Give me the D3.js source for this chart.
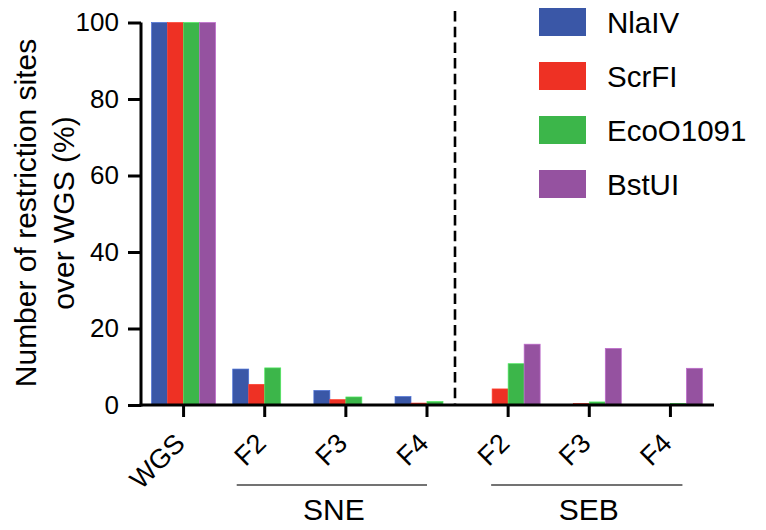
<!DOCTYPE html>
<html>
<head>
<meta charset="utf-8">
<script src="https://cdn.jsdelivr.net/npm/d3@7"></script>
<style>
  body { margin: 0; background: #fff; }
  text { font-family: "Liberation Sans", Arial, Helvetica, sans-serif; fill: #000; }
</style>
</head>
<body>
<div id="chart"></div>
<script>
// categories along the x axis (group + fraction) and their tick labels
var categories = ["WGS", "SNE F2", "SNE F3", "SNE F4", "SEB F2", "SEB F3", "SEB F4"];
var tickLabels = ["WGS", "F2", "F3", "F4", "F2", "F3", "F4"];
var enzymes = ["NlaIV", "ScrFI", "EcoO1091", "BstUI"];
var colors = ["#3a57a7", "#ee3124", "#3cb64a", "#9552a0"];

// % of restriction sites over WGS, one array per enzyme
var nlaIV = [100, 9.4, 3.8, 2.2, 0, 0, 0];
var scrFI = [100, 5.4, 1.4, 0.5, 4.2, 0.4, 0];
var ecoO1091 = [100, 9.7, 2.1, 0.9, 10.8, 0.8, 0.4];
var bstUI = [100, 0, 0, 0, 15.9, 14.8, 9.6];
var series = [nlaIV, scrFI, ecoO1091, bstUI];

var groups = [
  { name: "SNE", from: "SNE F2", to: "SNE F4", padL: 28, padR: 0 },
  { name: "SEB", from: "SEB F2", to: "SEB F4", padL: 17, padR: 12 }
];

var W = 766, H = 530;
var svg = d3.select("#chart").append("svg")
  .attr("width", W).attr("height", H);

var x = d3.scaleBand().domain(categories).range([143, 711]).padding(0);
var xin = d3.scaleBand().domain(enzymes).range([-32, 32]).padding(0);
var y = d3.scaleLinear().domain([0, 100]).range([405, 22.5]);
var color = d3.scaleOrdinal().domain(enzymes).range(colors);
function cx(c) { return x(c) + x.bandwidth() / 2; }

// bars
var barData = [];
categories.forEach(function (c, i) {
  enzymes.forEach(function (e, j) {
    if (series[j][i] > 0) barData.push({ cat: c, enz: e, v: series[j][i] });
  });
});
svg.append("g").selectAll("rect")
  .data(barData)
  .enter()
  .append("rect")
  .attr("x", function (d) { return cx(d.cat) + xin(d.enz); })
  .attr("y", function (d) { return y(d.v); })
  .attr("width", xin.bandwidth())
  .attr("height", function (d) { return y(0) - y(d.v); })
  .style("fill", function (d) { return color(d.enz); })
  .style("stroke", function (d) { return d3.color(color(d.enz)).brighter(0.7); })
  .style("stroke-width", 0.7);

// y axis
var yAxis = svg.append("g")
  .attr("transform", "translate(141,0)")
  .call(d3.axisLeft(y).tickValues([0, 20, 40, 60, 80, 100]).tickSize(13).tickSizeOuter(0).tickPadding(9));
yAxis.selectAll("line, path").style("stroke", "#000").style("stroke-width", 3);
yAxis.select(".domain").attr("d", "M0," + (y(0) + 1.5) + "V" + y(100));
yAxis.selectAll("text").style("font-size", "26px").style("font-family", "Liberation Sans, Arial, sans-serif");

// x axis
var xAxis = svg.append("g")
  .attr("transform", "translate(0,405)")
  .call(d3.axisBottom(x).tickSize(12).tickSizeOuter(0)
    .tickFormat(function (d, i) { return tickLabels[i]; }));
xAxis.selectAll("line").style("stroke", "#000").style("stroke-width", 3);
xAxis.select(".domain").attr("d", "M139.5,0H714").style("stroke", "#000").style("stroke-width", 3);
xAxis.selectAll("text")
  .attr("x", null).attr("y", null).attr("dy", null)
  .attr("transform", "translate(3,40) rotate(-45)")
  .style("text-anchor", "end")
  .style("font-size", "27px")
  .style("font-family", "Liberation Sans, Arial, sans-serif");

// dashed separator between SNE and SEB
svg.append("line")
  .attr("x1", 455).attr("x2", 455)
  .attr("y1", 11).attr("y2", y(0))
  .style("stroke", "#000")
  .style("stroke-width", 2.6)
  .style("stroke-dasharray", "10.5,5.2");

// group underlines and names
groups.forEach(function (g) {
  var x1 = cx(g.from) - g.padL, x2 = cx(g.to) + g.padR;
  svg.append("line")
    .attr("x1", x1).attr("x2", x2)
    .attr("y1", 485).attr("y2", 485)
    .style("stroke", "#444").style("stroke-width", 1.5);
  svg.append("text")
    .attr("x", (x1 + x2) / 2 + 2).attr("y", 520)
    .attr("text-anchor", "middle")
    .style("font-size", "30px")
    .text(g.name);
});

// y axis title
var title = svg.append("text")
  .attr("transform", "translate(36,213) rotate(-90)")
  .attr("text-anchor", "middle")
  .style("font-size", "30px");
title.append("tspan").attr("x", 0).attr("y", 0).text("Number of restriction sites");
title.append("tspan").attr("x", 0).attr("y", 38).text("over WGS (%)");

// legend
var legend = svg.append("g").attr("transform", "translate(539,8)");
var item = legend.selectAll("g")
  .data(enzymes)
  .enter()
  .append("g")
  .attr("transform", function (d, i) { return "translate(0," + i * 54 + ")"; });
item.append("rect")
  .attr("width", 47).attr("height", 28)
  .style("fill", function (d) { return color(d); });
item.append("text")
  .attr("x", 68).attr("y", 25)
  .style("font-size", "29.5px")
  .text(function (d) { return d; });
</script>
</body>
</html>
